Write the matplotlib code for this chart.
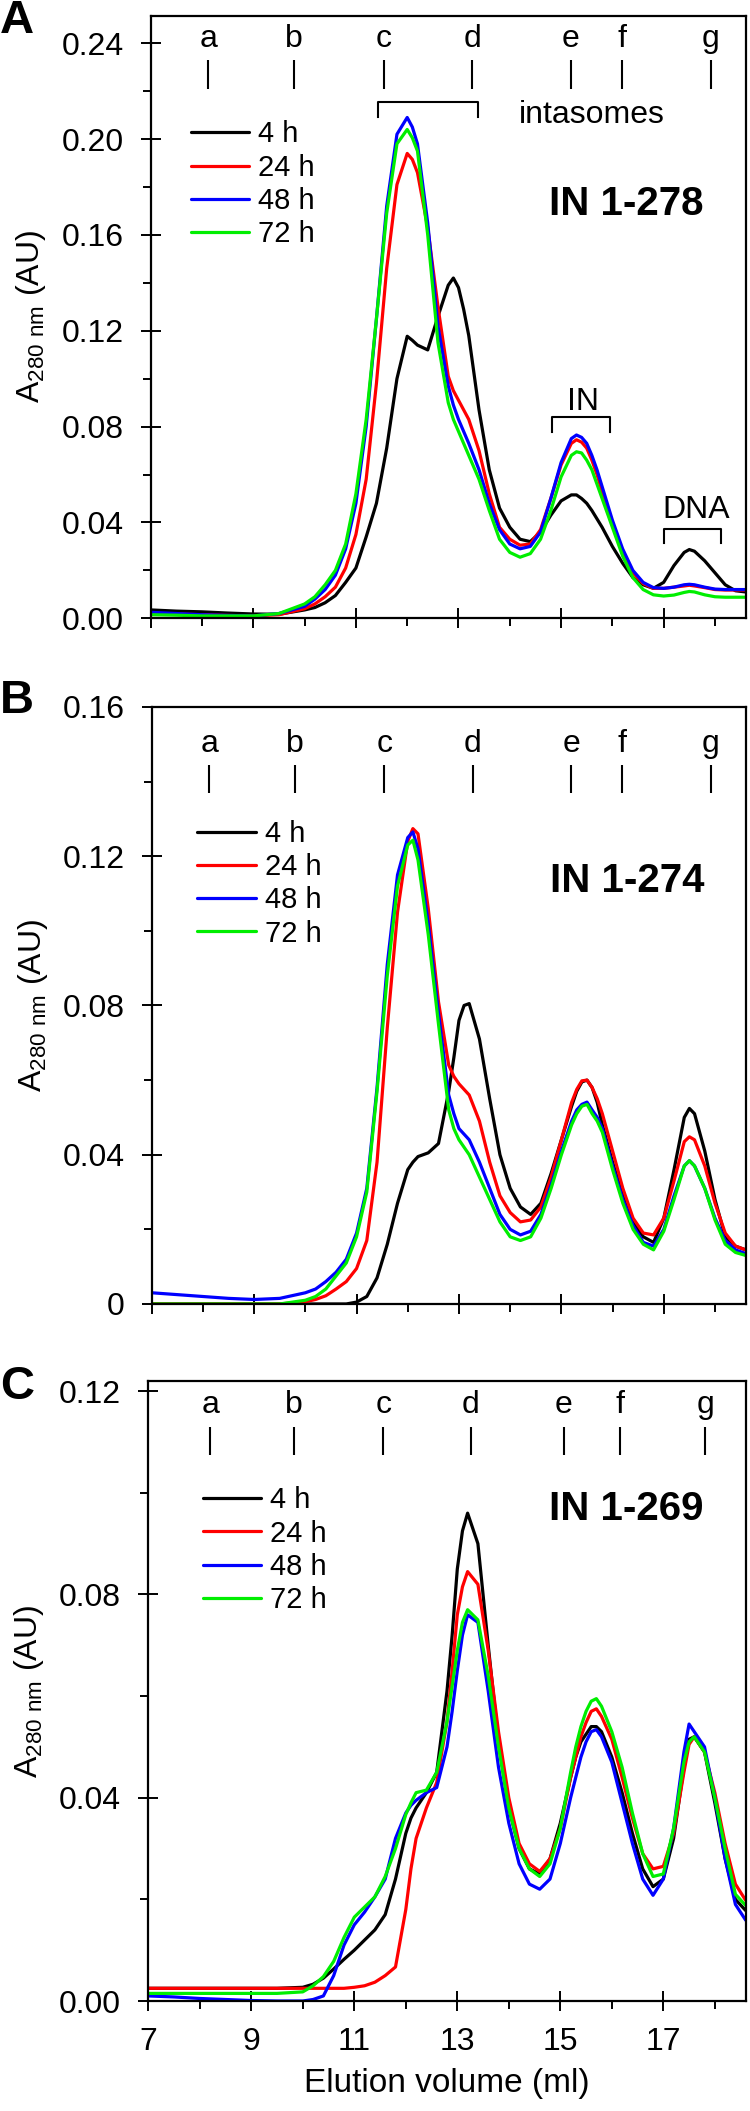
import numpy as np
import matplotlib.pyplot as plt
from matplotlib.ticker import MultipleLocator, FixedLocator, FixedFormatter

plt.rcParams['font.family'] = ['Liberation Sans', 'DejaVu Sans']
plt.rcParams['mathtext.default'] = 'regular'

# elution volume (ml) at which the traces were read
vol = [7.0, 7.5, 8.0, 8.5, 9.0, 9.5, 10.0, 10.2, 10.4, 10.6,
       10.8, 11.0, 11.2, 11.4, 11.6, 11.8, 12.0, 12.2, 12.4, 12.6,
       12.8, 13.0, 13.2, 13.4, 13.6, 13.8, 14.0, 14.2, 14.4, 14.6,
       14.8, 15.0, 15.2, 15.4, 15.6, 15.8, 16.0, 16.2, 16.4, 16.6,
       16.8, 17.0, 17.2, 17.4, 17.6, 17.8, 18.0, 18.2, 18.4, 18.6]
# extra readings taken near the peak tops
vol_pk = [12.1, 12.9, 13.1, 15.3, 15.5, 15.7, 17.5]

times = ['4 h', '24 h', '48 h', '72 h']
colors = ['#000000', '#ff0000', '#0000ff', '#00ee00']

# panel A : IN 1-278
a_4h = [0.0035, 0.0030, 0.0027, 0.0022, 0.0018, 0.0017, 0.0035, 0.0045, 0.0065, 0.0095,
        0.0150, 0.0210, 0.0340, 0.0480, 0.0710, 0.1000, 0.1177, 0.1140, 0.1120, 0.1260,
        0.1390, 0.1380, 0.1180, 0.0870, 0.0620, 0.0460, 0.0380, 0.0330, 0.0320, 0.0360,
        0.0430, 0.0490, 0.0515, 0.0500, 0.0450, 0.0380, 0.0300, 0.0230, 0.0170, 0.0140,
        0.0125, 0.0150, 0.0220, 0.0275, 0.0280, 0.0240, 0.0190, 0.0140, 0.0115, 0.0110]
a_24h = [0.0020, 0.0018, 0.0015, 0.0012, 0.0010, 0.0015, 0.0040, 0.0060, 0.0090, 0.0130,
         0.0210, 0.0350, 0.0580, 0.0980, 0.1460, 0.1810, 0.1940, 0.1860, 0.1630, 0.1300,
         0.1010, 0.0910, 0.0830, 0.0700, 0.0520, 0.0380, 0.0330, 0.0305, 0.0310, 0.0370,
         0.0500, 0.0640, 0.0730, 0.0735, 0.0660, 0.0530, 0.0400, 0.0280, 0.0190, 0.0145,
         0.0125, 0.0125, 0.0130, 0.0135, 0.0135, 0.0128, 0.0120, 0.0118, 0.0118, 0.0118]
a_48h = [0.0025, 0.0020, 0.0015, 0.0012, 0.0010, 0.0020, 0.0050, 0.0080, 0.0120, 0.0180,
         0.0290, 0.0480, 0.0800, 0.1250, 0.1720, 0.2020, 0.2090, 0.1980, 0.1650, 0.1220,
         0.0970, 0.0830, 0.0730, 0.0620, 0.0480, 0.0370, 0.0310, 0.0290, 0.0300, 0.0360,
         0.0500, 0.0650, 0.0750, 0.0755, 0.0680, 0.0550, 0.0410, 0.0290, 0.0200, 0.0150,
         0.0128, 0.0125, 0.0130, 0.0140, 0.0140, 0.0130, 0.0122, 0.0120, 0.0120, 0.0120]
a_72h = [0.0015, 0.0013, 0.0010, 0.0010, 0.0010, 0.0020, 0.0060, 0.0090, 0.0140, 0.0200,
         0.0310, 0.0520, 0.0830, 0.1250, 0.1690, 0.1980, 0.2040, 0.1950, 0.1600, 0.1150,
         0.0900, 0.0780, 0.0680, 0.0580, 0.0450, 0.0330, 0.0275, 0.0255, 0.0270, 0.0330,
         0.0450, 0.0590, 0.0680, 0.0690, 0.0620, 0.0500, 0.0380, 0.0260, 0.0170, 0.0120,
         0.0098, 0.0093, 0.0097, 0.0108, 0.0110, 0.0098, 0.0090, 0.0088, 0.0088, 0.0088]
a_4h_pk = [0.1160, 0.1420, 0.1290, 0.0515, 0.0480, 0.0415, 0.0287]
a_24h_pk = [0.1915, 0.0950, 0.0870, 0.0745, 0.0710, 0.0600, 0.0138]
a_48h_pk = [0.2050, 0.0890, 0.0780, 0.0765, 0.0730, 0.0620, 0.0142]
a_72h_pk = [0.2005, 0.0830, 0.0730, 0.0695, 0.0660, 0.0560, 0.0112]

# panel B : IN 1-274
b_4h = [0.0, 0.0, 0.0, 0.0, 0.0, 0.0, 0.0, 0.0, 0.0, 0.0,
        0.0, 0.0005, 0.0020, 0.0070, 0.0160, 0.0270, 0.0360, 0.0395, 0.0405, 0.0430,
        0.0570, 0.0760, 0.0805, 0.0710, 0.0550, 0.0400, 0.0310, 0.0260, 0.0240, 0.0270,
        0.0350, 0.0440, 0.0530, 0.0595, 0.0580, 0.0480, 0.0380, 0.0290, 0.0220, 0.0180,
        0.0165, 0.0230, 0.0360, 0.0500, 0.0510, 0.0410, 0.0280, 0.0180, 0.0155, 0.0145]
b_24h = [0.0, 0.0, 0.0, 0.0, 0.0, 0.0, 0.0006, 0.0012, 0.0022, 0.0040,
         0.0060, 0.0095, 0.0170, 0.0380, 0.0740, 0.1050, 0.1240, 0.1260, 0.1060, 0.0810,
         0.0640, 0.0590, 0.0560, 0.0490, 0.0380, 0.0290, 0.0245, 0.0220, 0.0225, 0.0260,
         0.0340, 0.0440, 0.0540, 0.0598, 0.0580, 0.0510, 0.0410, 0.0310, 0.0230, 0.0190,
         0.0185, 0.0230, 0.0330, 0.0435, 0.0440, 0.0370, 0.0270, 0.0190, 0.0155, 0.0145]
b_48h = [0.0030, 0.0025, 0.0020, 0.0015, 0.0012, 0.0015, 0.0030, 0.0040, 0.0060, 0.0085,
         0.0120, 0.0190, 0.0310, 0.0580, 0.0910, 0.1150, 0.1250, 0.1220, 0.1020, 0.0780,
         0.0560, 0.0470, 0.0440, 0.0380, 0.0310, 0.0240, 0.0200, 0.0185, 0.0195, 0.0240,
         0.0320, 0.0410, 0.0490, 0.0535, 0.0520, 0.0470, 0.0370, 0.0280, 0.0210, 0.0165,
         0.0155, 0.0200, 0.0290, 0.0370, 0.0370, 0.0310, 0.0230, 0.0170, 0.0145, 0.0135]
b_72h = [0.0, 0.0, 0.0, 0.0, 0.0, 0.0, 0.0010, 0.0020, 0.0040, 0.0075,
         0.0110, 0.0180, 0.0300, 0.0570, 0.0880, 0.1120, 0.1230, 0.1190, 0.0990, 0.0750,
         0.0520, 0.0440, 0.0400, 0.0340, 0.0280, 0.0220, 0.0180, 0.0170, 0.0180, 0.0230,
         0.0310, 0.0400, 0.0480, 0.0530, 0.0510, 0.0460, 0.0360, 0.0270, 0.0200, 0.0160,
         0.0145, 0.0195, 0.0280, 0.0370, 0.0370, 0.0310, 0.0225, 0.0160, 0.0138, 0.0130]
b_4h_pk = [0.0380, 0.0660, 0.0800, 0.0570, 0.0600, 0.0540, 0.0524]
b_24h_pk = [0.1274, 0.0610, 0.0575, 0.0575, 0.0600, 0.0550, 0.0448]
b_48h_pk = [0.1265, 0.0510, 0.0455, 0.0520, 0.0541, 0.0500, 0.0384]
b_72h_pk = [0.1243, 0.0470, 0.0420, 0.0510, 0.0535, 0.0490, 0.0384]

# panel C : IN 1-269
c_4h = [0.0025, 0.0025, 0.0025, 0.0025, 0.0025, 0.0025, 0.0027, 0.0033, 0.0045, 0.0063,
        0.0082, 0.0100, 0.0120, 0.0140, 0.0170, 0.0240, 0.0330, 0.0380, 0.0410, 0.0450,
        0.0610, 0.0850, 0.0960, 0.0900, 0.0700, 0.0510, 0.0380, 0.0300, 0.0260, 0.0250,
        0.0280, 0.0350, 0.0440, 0.0510, 0.0540, 0.0530, 0.0480, 0.0410, 0.0330, 0.0260,
        0.0225, 0.0240, 0.0320, 0.0460, 0.0520, 0.0490, 0.0390, 0.0280, 0.0200, 0.0178]
c_24h = [0.0025, 0.0025, 0.0025, 0.0025, 0.0025, 0.0025, 0.0025, 0.0025, 0.0025, 0.0025,
         0.0025, 0.0027, 0.0030, 0.0037, 0.0050, 0.0067, 0.0180, 0.0320, 0.0380, 0.0430,
         0.0550, 0.0760, 0.0845, 0.0820, 0.0690, 0.0530, 0.0400, 0.0310, 0.0270, 0.0255,
         0.0280, 0.0340, 0.0440, 0.0520, 0.0570, 0.0560, 0.0515, 0.0440, 0.0360, 0.0290,
         0.0260, 0.0265, 0.0330, 0.0450, 0.0520, 0.0490, 0.0410, 0.0310, 0.0230, 0.0198]
c_48h = [0.0010, 0.0008, 0.0005, 0.0003, 0.0001, 0.0, 0.0, 0.0003, 0.0010, 0.0050,
         0.0110, 0.0150, 0.0175, 0.0205, 0.0240, 0.0320, 0.0370, 0.0395, 0.0410, 0.0420,
         0.0500, 0.0650, 0.0760, 0.0745, 0.0610, 0.0460, 0.0350, 0.0270, 0.0230, 0.0220,
         0.0240, 0.0310, 0.0400, 0.0480, 0.0530, 0.0520, 0.0470, 0.0390, 0.0310, 0.0240,
         0.0208, 0.0240, 0.0340, 0.0490, 0.0530, 0.0500, 0.0400, 0.0280, 0.0190, 0.0159]
c_72h = [0.0015, 0.0015, 0.0015, 0.0015, 0.0015, 0.0015, 0.0018, 0.0030, 0.0048, 0.0078,
         0.0125, 0.0165, 0.0185, 0.0205, 0.0245, 0.0300, 0.0367, 0.0410, 0.0415, 0.0450,
         0.0550, 0.0690, 0.0770, 0.0750, 0.0640, 0.0500, 0.0380, 0.0300, 0.0260, 0.0245,
         0.0270, 0.0340, 0.0450, 0.0540, 0.0590, 0.0580, 0.0530, 0.0460, 0.0370, 0.0290,
         0.0245, 0.0250, 0.0340, 0.0470, 0.0520, 0.0490, 0.0400, 0.0300, 0.0210, 0.0188]
c_4h_pk = [0.0360, 0.0720, 0.0925, 0.0480, 0.0525, 0.0540, 0.0515]
c_24h_pk = [0.0260, 0.0650, 0.0815, 0.0480, 0.0548, 0.0575, 0.0505]
c_48h_pk = [0.0385, 0.0570, 0.0720, 0.0440, 0.0510, 0.0534, 0.0545]
c_72h_pk = [0.0390, 0.0620, 0.0745, 0.0500, 0.0570, 0.0595, 0.0510]

# calibration standards a-g (ml)
std_labels = ['a', 'b', 'c', 'd', 'e', 'f', 'g']
std_ab = [8.12, 9.79, 11.54, 13.27, 15.19, 16.19, 17.92]
std_c = [8.20, 9.82, 11.56, 13.26, 15.07, 16.15, 17.81]

panels = [
    dict(letter='A', name='IN 1-278', std=std_ab,
         traces=[(a_4h, a_4h_pk), (a_24h, a_24h_pk), (a_48h, a_48h_pk), (a_72h, a_72h_pk)],
         rect=[0.201, 0.7071, 0.7933, 0.2855], ylim=0.2515,
         yticks=[0.0, 0.04, 0.08, 0.12, 0.16, 0.20, 0.24],
         ylabels=['0.00', '0.04', '0.08', '0.12', '0.16', '0.20', '0.24'],
         letter_y=0.990, std_txt=0.948, std_mark=(0.878, 0.926),
         leg=(0.067, 0.826), name_y=0.688),
    dict(letter='B', name='IN 1-274', std=std_ab,
         traces=[(b_4h, b_4h_pk), (b_24h, b_24h_pk), (b_48h, b_48h_pk), (b_72h, b_72h_pk)],
         rect=[0.2023, 0.3823, 0.7920, 0.2828], ylim=0.16,
         yticks=[0.0, 0.04, 0.08, 0.12, 0.16],
         ylabels=['0', '0.04', '0.08', '0.12', '0.16'],
         letter_y=0.668, std_txt=0.925, std_mark=(0.856, 0.903),
         leg=(0.077, 0.811), name_y=0.709),
    dict(letter='C', name='IN 1-269', std=std_c,
         traces=[(c_4h, c_4h_pk), (c_24h, c_24h_pk), (c_48h, c_48h_pk), (c_72h, c_72h_pk)],
         rect=[0.1977, 0.0521, 0.7966, 0.2937], ylim=0.122,
         yticks=[0.0, 0.04, 0.08, 0.12],
         ylabels=['0.00', '0.04', '0.08', '0.12'],
         letter_y=0.343, std_txt=0.948, std_mark=(0.881, 0.926),
         leg=(0.091, 0.830), name_y=0.793),
]

x_all = np.array(vol + vol_pk)
order = np.argsort(x_all)

fig = plt.figure(figsize=(7.5, 21.11), dpi=100)

for i, p in enumerate(panels):
    ax = fig.add_axes(p['rect'])
    for (vals, pk), lab, col in zip(p['traces'], times, colors):
        y_all = np.array(vals + pk)
        ax.plot(x_all[order], y_all[order], color=col, lw=2.3, label=lab,
                solid_joinstyle='round', solid_capstyle='round')

    ax.set_xlim(7, 18.6)
    ax.set_ylim(0, p['ylim'])
    ax.xaxis.set_major_locator(FixedLocator([7, 9, 11, 13, 15, 17]))
    ax.xaxis.set_minor_locator(FixedLocator([8, 10, 12, 14, 16, 18]))
    ax.yaxis.set_major_locator(FixedLocator(p['yticks']))
    ax.yaxis.set_major_formatter(FixedFormatter(p['ylabels']))
    ax.yaxis.set_minor_locator(MultipleLocator(0.02))
    ax.tick_params(which='major', direction='inout', length=14, width=1.4,
                   labelsize=23)
    ax.tick_params(axis='y', which='major', pad=12.5)
    ax.tick_params(axis='x', which='major', pad=11.5)
    ax.tick_params(which='minor', direction='out', length=5.5, width=1.4)
    for s in ax.spines.values():
        s.set_linewidth(1.6)

    if i < 2:
        ax.tick_params(axis='x', labelbottom=False)
    else:
        ax.set_xlabel('Elution volume (ml)', fontsize=24, labelpad=8)

    ax.set_ylabel('A$_{280\\ nm}$ (AU)', fontsize=23)
    ax.yaxis.set_label_coords(-0.172, 0.5)

    # standards markers
    tr = ax.get_xaxis_transform()
    for lab, x in zip(std_labels, p['std']):
        ax.text(x, p['std_txt'], lab, transform=tr, ha='center', va='baseline', fontsize=23)
    ax.vlines(p['std'], p['std_mark'][0], p['std_mark'][1], transform=tr,
              color='black', lw=1.5)

    ax.legend(loc='upper left', bbox_to_anchor=p['leg'], frameon=False, fontsize=21,
              handlelength=2.0, handletextpad=0.3, labelspacing=0.18,
              borderpad=0.0, borderaxespad=0.0)

    ax.text(0.80, p['name_y'], p['name'], transform=ax.transAxes, ha='center',
            va='center', fontsize=29, fontweight='bold')

    fig.text(0.0, p['letter_y'], p['letter'], ha='left', va='center',
             fontsize=34, fontweight='bold')

    if i == 0:
        # bracket annotations in panel A
        for (x0, x1, ytop, ydrop) in [(11.44, 13.39, 0.2153, 0.209),
                                      (14.83, 15.95, 0.0841, 0.0776),
                                      (17.01, 18.12, 0.0372, 0.0316)]:
            ax.plot([x0, x0, x1, x1], [ydrop, ytop, ytop, ydrop], color='black', lw=1.5)
        ax.text(15.59, 0.210, 'intasomes', ha='center', va='center', fontsize=23)
        ax.text(15.42, 0.0904, 'IN', ha='center', va='center', fontsize=23)
        ax.text(17.63, 0.0452, 'DNA', ha='center', va='center', fontsize=23)

fig.savefig('out.png', dpi=100)
